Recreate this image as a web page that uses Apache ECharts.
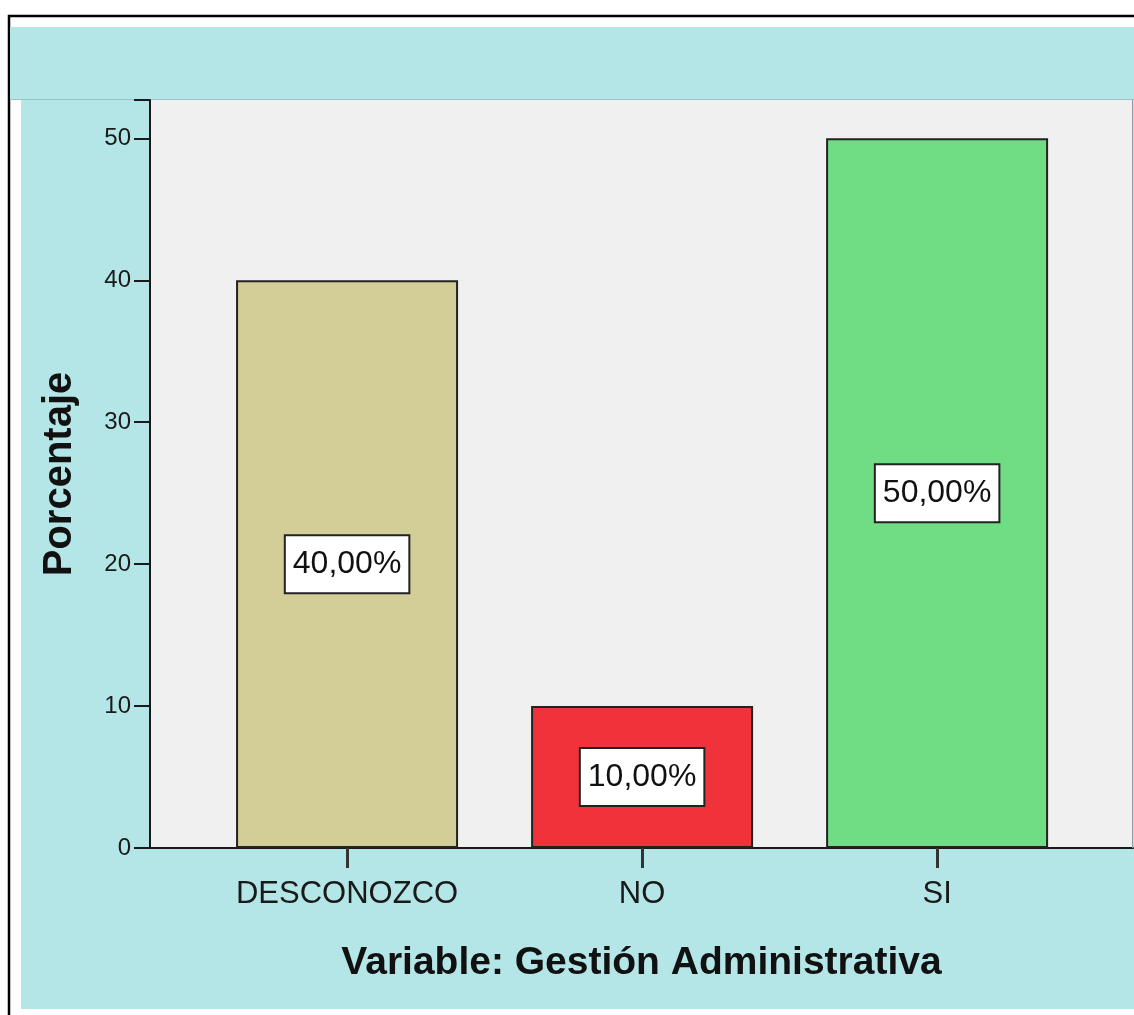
<!DOCTYPE html>
<html>
<head>
<meta charset="utf-8">
<script src="https://cdn.jsdelivr.net/npm/echarts@6/dist/echarts.min.js"></script>
<style>
html,body{margin:0;padding:0;background:#ffffff;}
#chart{width:1134px;height:1015px;}
</style>
</head>
<body>
<div id="chart"></div>
<script>
var categories = ['DESCONOZCO', 'NO', 'SI'];
var percentages = [40, 10, 50];
var barColors = ['#D3CD97', '#F0323A', '#70DD84'];
var yTicks = [0, 10, 20, 30, 40, 50];
var yTitle = 'Porcentaje';
var xTitle = 'Variable: Gestión Administrativa';

var sans = '"Liberation Sans", Arial, sans-serif';

var chart = echarts.init(document.getElementById('chart'), null, {renderer: 'canvas'});

var barData = categories.map(function (c, i) {
  return {value: [i, percentages[i]], itemStyle: {color: barColors[i]}};
});

chart.setOption({
  animation: false,
  backgroundColor: '#ffffff',
  graphic: [
    {type: 'rect', z: -10, shape: {x: 9, y: 16, width: 1140, height: 1010}, style: {fill: '#ffffff', stroke: '#000000', lineWidth: 2.5}},
    {type: 'rect', z: -9, shape: {x: 10, y: 27, width: 1124, height: 72}, style: {fill: '#B4E6E7'}},
    {type: 'rect', z: -9, shape: {x: 21, y: 100, width: 1113, height: 909}, style: {fill: '#B4E6E7'}},
    {type: 'line', z: -8, shape: {x1: 10, y1: 99.5, x2: 1134, y2: 99.5}, style: {stroke: '#98c4c4', lineWidth: 1}},
    {type: 'line', z: 5, shape: {x1: 1132.5, y1: 100, x2: 1132.5, y2: 848}, style: {stroke: '#9a9a9a', lineWidth: 1}}
  ],
  grid: {
    left: 150, top: 100, right: 1, bottom: 167,
    show: true, backgroundColor: '#F0F0F0', borderWidth: 0
  },
  xAxis: {
    type: 'value',
    min: -0.668, max: 2.664,
    axisLine: {show: true, onZero: false, lineStyle: {color: '#1a1a1a', width: 2}},
    splitLine: {show: false},
    axisTick: {show: true, customValues: [0, 1, 2], length: 20, lineStyle: {color: '#333', width: 3}},
    axisLabel: {
      customValues: [0, 1, 2],
      formatter: function (v) { return categories[Math.round(v)]; },
      margin: 31, fontFamily: sans, fontSize: 31, color: '#1a1a1a'
    },
    name: xTitle, nameLocation: 'middle', nameGap: 96,
    nameTextStyle: {fontFamily: sans, fontWeight: 'bold', fontSize: 39, color: '#111'}
  },
  yAxis: {
    type: 'value',
    min: 0, max: 52.7, interval: 10,
    axisLine: {show: true, onZero: false, lineStyle: {color: '#1a1a1a', width: 2}},
    splitLine: {show: false},
    axisTick: {show: true, length: 16, lineStyle: {color: '#1a1a1a', width: 2}},
    axisLabel: {
      margin: 19, fontFamily: sans, fontSize: 24, color: '#1a1a1a',
      formatter: function (v) { return yTicks.indexOf(v) >= 0 ? String(v) : ''; }
    },
    name: yTitle, nameLocation: 'middle', nameGap: 70, nameRotate: 90,
    nameTextStyle: {fontFamily: sans, fontWeight: 'bold', fontSize: 40, color: '#111'}
  },
  series: [{
    type: 'bar',
    data: barData,
    barWidth: 222,
    itemStyle: {borderColor: '#222', borderWidth: 2},
    label: {
      show: true, position: 'inside',
      formatter: function (p) { return p.value[1].toFixed(2).replace('.', ',') + '%'; },
      backgroundColor: '#ffffff', borderColor: '#222', borderWidth: 2,
      padding: [13, 7, 11, 7],
      fontFamily: sans, fontSize: 32, color: '#111'
    }
  }]
});
</script>
</body>
</html>
